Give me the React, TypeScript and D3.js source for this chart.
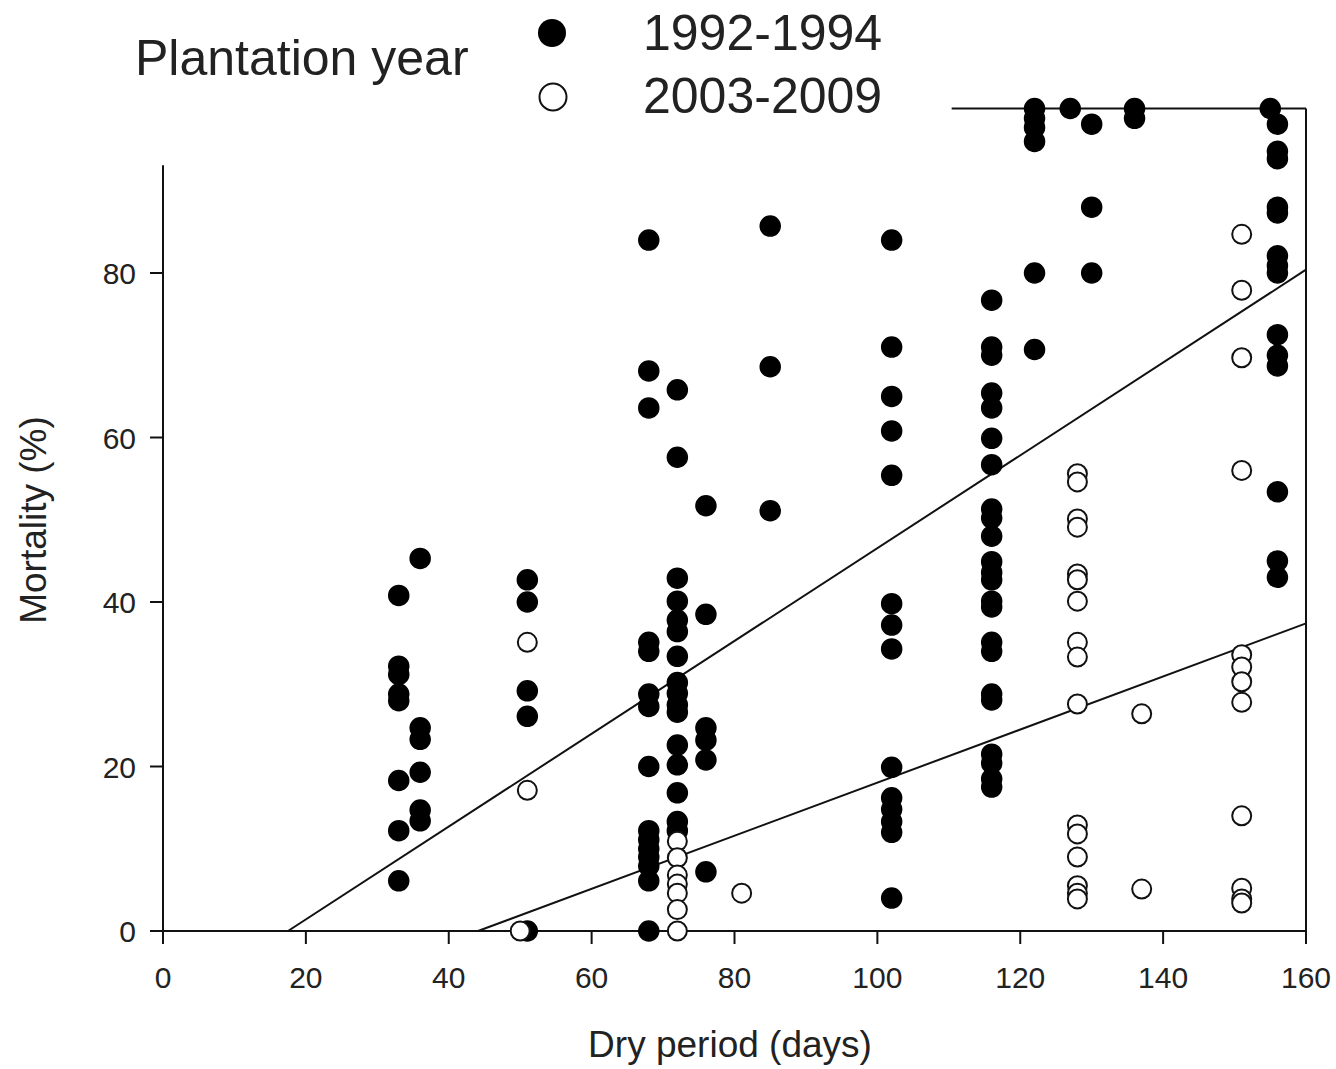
import React from "react";
import * as d3 from "d3";

// Dry period (days) and mortality (%) per plantation cohort
const earlyDays = [33, 36, 51, 68, 72, 76, 85, 102, 116, 122, 127, 130, 136, 155, 156];
const earlyMortality: number[][] = [
  [40.8, 32.2, 31.2, 28.8, 28.0, 18.3, 12.2, 6.1],
  [45.3, 24.7, 23.3, 19.3, 14.7, 13.4],
  [42.7, 40.0, 29.2, 26.1, 0],
  [84.0, 68.1, 63.6, 35.1, 34.0, 28.8, 27.3, 20.0, 12.2, 11.1, 10.0, 9.0, 7.9, 6.1, 0],
  [65.8, 57.6, 42.9, 40.1, 37.8, 36.4, 33.4, 30.2, 28.9, 27.5, 26.6, 22.6, 20.2, 16.8, 13.3, 12.2],
  [51.7, 38.5, 24.7, 23.2, 20.8, 7.2],
  [85.7, 68.6, 51.1],
  [84.0, 71.0, 65.0, 60.8, 55.4, 39.8, 37.2, 34.3, 19.9, 16.2, 14.8, 13.3, 12.0, 4.0],
  [76.7, 71.0, 70.0, 65.4, 63.6, 59.9, 56.7, 51.3, 50.2, 48.0, 44.9, 43.6, 42.7, 40.1, 39.4, 35.1, 34.0, 28.8, 28.1, 21.5, 20.4, 18.5, 17.5],
  [100, 98.8, 97.7, 96.0, 80.0, 70.7],
  [100],
  [98.1, 88.0, 80.0],
  [100, 98.8],
  [100],
  [98.1, 94.8, 93.9, 88.0, 87.3, 82.1, 80.9, 80.0, 72.5, 70.0, 68.7, 53.4, 45.0, 43.0],
];

const lateDays = [50, 51, 72, 81, 128, 137, 151];
const lateMortality: number[][] = [
  [0],
  [35.1, 17.1],
  [10.9, 8.9, 6.8, 5.7, 4.6, 2.6, 0],
  [4.6],
  [55.6, 54.6, 50.1, 49.1, 43.4, 42.7, 40.1, 35.1, 33.3, 27.6, 12.9, 11.8, 9.0, 5.5, 4.6, 3.9],
  [26.4, 5.1],
  [84.7, 77.9, 69.7, 56.0, 33.6, 32.1, 30.3, 27.8, 14.0, 5.2, 3.9, 3.4],
];

// Linear fits: [x at zero mortality, mortality at 160 days]
const earlyFit = [
  { x: 17.5, y: 0 },
  { x: 160, y: 80.4 },
];
const lateFit = [
  { x: 44.1, y: 0 },
  { x: 160, y: 37.4 },
];

const xTicks = [0, 20, 40, 60, 80, 100, 120, 140, 160];
const yTicks = [0, 20, 40, 60, 80];
const legendLabels = ["1992-1994", "2003-2009"];

const flatten = (days: number[], vals: number[][]) =>
  days.flatMap((d, i) => vals[i].map((v) => ({ x: d, y: v })));

export default function App() {
  const W = 1336;
  const H = 1069;
  const x = d3.scaleLinear().domain([0, 160]).range([163, 1306]);
  const y = d3.scaleLinear().domain([0, 100]).range([931, 108.5]);
  const font = "'Liberation Sans', Arial, Helvetica, sans-serif";
  const line = d3
    .line<{ x: number; y: number }>()
    .x((d) => x(d.x))
    .y((d) => y(d.y));

  const early = flatten(earlyDays, earlyMortality);
  const late = flatten(lateDays, lateMortality);
  const r = 10;
  const tickLen = 13;

  return (
    <svg
      width={W}
      height={H}
      style={{ position: "absolute", left: 0, top: 0, background: "#fff" }}
      fontFamily={font}
    >
      <rect width={W} height={H} fill="#fff" />
      {/* axes and frame */}
      <g stroke="#111" strokeWidth={2} fill="none">
        <line x1={x(0)} x2={x(0)} y1={y(93.1)} y2={y(0)} />
        <line x1={x(0) - tickLen} x2={x(160)} y1={y(0)} y2={y(0)} />
        <line x1={x(160)} x2={x(160)} y1={y(100)} y2={y(0) + tickLen} />
        <line x1={x(110.4)} x2={x(160)} y1={y(100)} y2={y(100)} />
        {yTicks.map((t) => (
          <line key={"yt" + t} x1={x(0) - tickLen} x2={x(0)} y1={y(t)} y2={y(t)} />
        ))}
        {xTicks.map((t) => (
          <line key={"xt" + t} x1={x(t)} x2={x(t)} y1={y(0)} y2={y(0) + tickLen} />
        ))}
      </g>
      {/* tick labels */}
      <g fill="#222" fontSize={30}>
        {xTicks.map((t) => (
          <text key={"xl" + t} x={x(t)} y={988} textAnchor="middle">
            {t}
          </text>
        ))}
        {yTicks.map((t) => (
          <text key={"yl" + t} x={136} y={y(t) + 11} textAnchor="end">
            {t}
          </text>
        ))}
      </g>
      {/* axis titles */}
      <text x={730} y={1057} textAnchor="middle" fontSize={37} fill="#222">
        Dry period (days)
      </text>
      <text
        transform={`translate(46, 520) rotate(-90)`}
        textAnchor="middle"
        fontSize={37}
        fill="#222"
      >
        Mortality (%)
      </text>
      {/* regression lines */}
      <path d={line(earlyFit) ?? ""} stroke="#111" strokeWidth={2} fill="none" />
      <path d={line(lateFit) ?? ""} stroke="#111" strokeWidth={2} fill="none" />
      {/* points */}
      <g>
        {early.map((p, i) => (
          <circle key={"e" + i} cx={x(p.x)} cy={y(p.y)} r={r} fill="#000" stroke="#000" strokeWidth={1.5} />
        ))}
        {late.map((p, i) => (
          <circle key={"l" + i} cx={x(p.x)} cy={y(p.y)} r={r - 0.5} fill="#fff" stroke="#111" strokeWidth={2} />
        ))}
      </g>
      {/* legend */}
      <text x={135} y={75} fontSize={50} fill="#222">
        Plantation year
      </text>
      <circle cx={552} cy={33} r={14} fill="#000" />
      <circle cx={553} cy={97} r={13.5} fill="#fff" stroke="#111" strokeWidth={2} />
      <text x={643} y={50} fontSize={50} fill="#222">
        {legendLabels[0]}
      </text>
      <text x={643} y={113} fontSize={50} fill="#222">
        {legendLabels[1]}
      </text>
    </svg>
  );
}
